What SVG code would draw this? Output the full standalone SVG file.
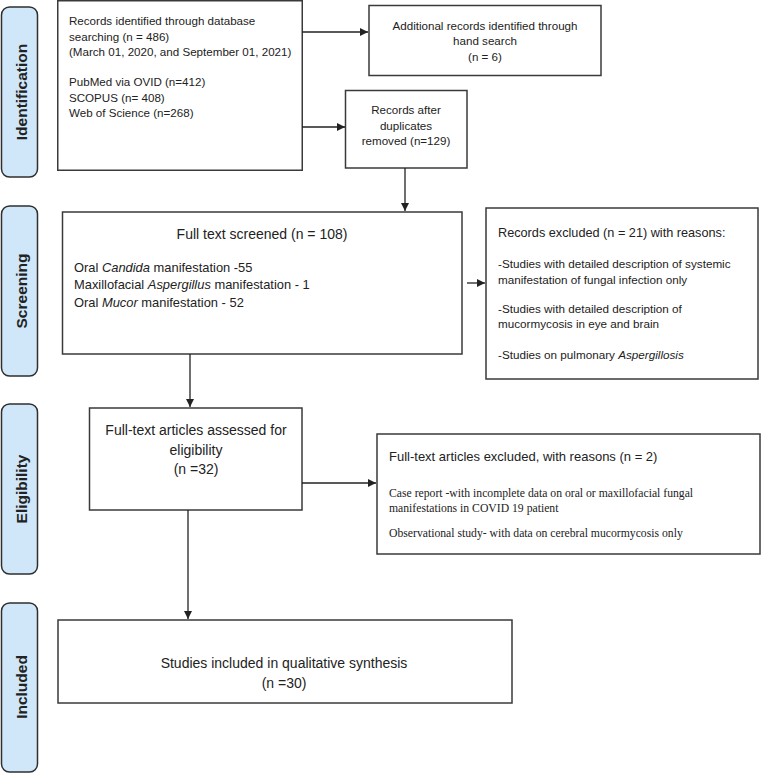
<svg xmlns="http://www.w3.org/2000/svg" width="763" height="773" viewBox="0 0 763 773">
<style>
.box{fill:#fff;stroke:#3a3a3a;stroke-width:1.5}
.side{fill:#cfe7f8;stroke:#2f2f2f;stroke-width:1.5}
.lab{font-family:"Liberation Sans",Arial,sans-serif;font-weight:bold;font-size:15.5px;fill:#222;text-anchor:middle}
.t{font-family:"Liberation Sans",Arial,sans-serif;fill:#222}
.s{font-family:"Liberation Serif","Times New Roman",serif;fill:#222}
.c{text-anchor:middle}
.con{stroke:#222;stroke-width:1.3;fill:none}
</style>
<defs>
<marker id="ah" markerWidth="10" markerHeight="10" refX="8" refY="4" orient="auto" markerUnits="userSpaceOnUse">
<path d="M0,0 L8,4 L0,8 Z" fill="#222"/>
</marker>
</defs>
<g id="side-identification"><rect class="side" x="1.5" y="7" width="36" height="170" rx="8"/><text class="lab" transform="translate(27,92) rotate(-90)">Identification</text></g>
<g id="side-screening"><rect class="side" x="1.5" y="206" width="36" height="170" rx="8"/><text class="lab" transform="translate(27,291) rotate(-90)">Screening</text></g>
<g id="side-eligibility"><rect class="side" x="1.5" y="404" width="36" height="170" rx="8"/><text class="lab" transform="translate(27,489) rotate(-90)">Eligibility</text></g>
<g id="side-included"><rect class="side" x="1.5" y="603" width="36" height="169" rx="8"/><text class="lab" transform="translate(27,687) rotate(-90)">Included</text></g>

<g id="n-records"><rect class="box" x="57.75" y="0.75" width="244.5" height="169.5"/>
<text class="t" font-size="11.6" x="69"><tspan x="69" y="25">Records identified through database</tspan><tspan x="69" y="40.5">searching (n = 486)</tspan><tspan x="69" y="56">(March 01, 2020, and September 01, 2021)</tspan><tspan x="69" y="86">PubMed via OVID (n=412)</tspan><tspan x="69" y="101.5">SCOPUS (n= 408)</tspan><tspan x="69" y="117">Web of Science (n=268)</tspan></text></g>

<g id="n-additional"><rect class="box" x="369" y="5.5" width="232" height="70"/>
<text class="t c" font-size="11.6"><tspan x="485" y="29.5">Additional records identified through</tspan><tspan x="485" y="45">hand search</tspan><tspan x="485" y="61">(n = 6)</tspan></text></g>

<g id="n-dedup"><rect class="box" x="345.5" y="90.5" width="121.5" height="77.5"/>
<text class="t c" font-size="11.6"><tspan x="406" y="114">Records after</tspan><tspan x="406" y="130">duplicates</tspan><tspan x="406" y="145">removed (n=129)</tspan></text></g>

<g id="n-screened"><rect class="box" x="62.5" y="212" width="399.5" height="142"/>
<text class="t c" font-size="14" x="262" y="239">Full text screened (n = 108)</text>
<text class="t" font-size="12.9"><tspan x="74" y="271.5">Oral <tspan font-style="italic">Candida</tspan> manifestation -55</tspan><tspan x="74" y="289">Maxillofacial <tspan font-style="italic">Aspergillus</tspan> manifestation - 1</tspan><tspan x="74" y="306.5">Oral <tspan font-style="italic">Mucor</tspan> manifestation - 52</tspan></text></g>

<g id="n-excluded1"><rect class="box" x="486" y="208" width="272" height="171"/>
<text class="t" font-size="12.7"><tspan x="498" y="236.5">Records excluded (n = 21) with reasons:</tspan></text>
<text class="t" font-size="11.7"><tspan x="498" y="267.5">-Studies with detailed description of systemic</tspan><tspan x="498" y="283.5">manifestation of fungal infection only</tspan><tspan x="498" y="312.5">-Studies with detailed description of</tspan><tspan x="498" y="328">mucormycosis in eye and brain</tspan><tspan x="498" y="359">-Studies on pulmonary <tspan font-style="italic">Aspergillosis</tspan></tspan></text></g>

<g id="n-eligibility"><rect class="box" x="89.5" y="408" width="212.5" height="102"/>
<text class="t c" font-size="14"><tspan x="196" y="435">Full-text articles assessed for</tspan><tspan x="196" y="455">eligibility</tspan><tspan x="196" y="474">(n =32)</tspan></text></g>

<g id="n-excluded2"><rect class="box" x="377" y="434" width="383" height="120"/>
<text class="t" font-size="13" x="389" y="461">Full-text articles excluded, with reasons (n = 2)</text>
<text class="s" font-size="11.7"><tspan x="389" y="497">Case report -with incomplete data on oral or maxillofacial fungal</tspan><tspan x="389" y="512">manifestations in COVID 19 patient</tspan><tspan x="389" y="537">Observational study- with data on cerebral mucormycosis only</tspan></text></g>

<g id="n-included"><rect class="box" x="58" y="620" width="454" height="83"/>
<text class="t c" font-size="14"><tspan x="284" y="668">Studies included in qualitative synthesis</tspan><tspan x="284" y="688">(n =30)</tspan></text></g>

<g id="connectors">
<line class="con" x1="302" y1="32" x2="368" y2="32" marker-end="url(#ah)"/>
<line class="con" x1="302" y1="127" x2="345" y2="127" marker-end="url(#ah)"/>
<line class="con" x1="405" y1="168" x2="405" y2="211" marker-end="url(#ah)"/>
<line class="con" x1="467" y1="283" x2="485" y2="283" marker-end="url(#ah)"/>
<line class="con" x1="190" y1="354" x2="190" y2="407" marker-end="url(#ah)"/>
<line class="con" x1="302" y1="483" x2="376" y2="483" marker-end="url(#ah)"/>
<line class="con" x1="188" y1="510" x2="188" y2="619" marker-end="url(#ah)"/>
</g>
</svg>
